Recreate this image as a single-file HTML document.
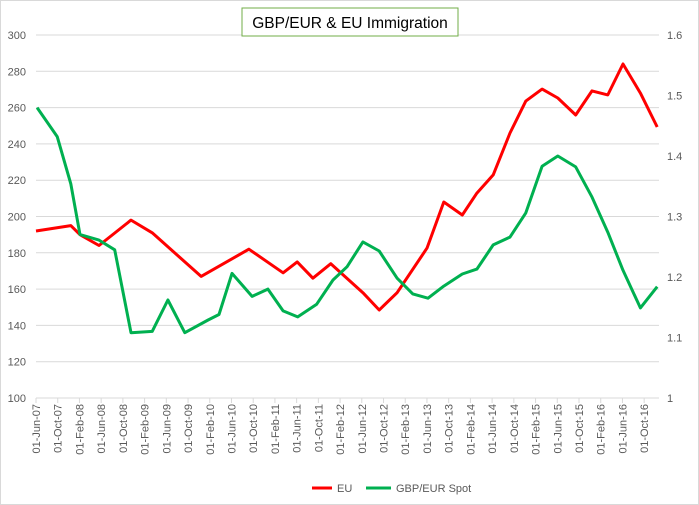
<!DOCTYPE html>
<html><head><meta charset="utf-8"><style>
body{margin:0;background:#fff}
svg{display:block;font-family:"Liberation Sans",sans-serif}
</style></head><body>
<svg id="c" width="699" height="505" viewBox="0 0 699 505">
<rect x="0.5" y="0.5" width="698" height="504" fill="#fff" stroke="#d9d9d9"/>
<g id="grid"></g>
<g id="axes"></g>
<g id="series"></g>
<rect x="242" y="8" width="216" height="28" fill="#fff" stroke="#70ad47"/>
<text x="350" y="28" text-anchor="middle" font-size="15.5" fill="#000">GBP/EUR &amp; EU Immigration</text>
<g>
<line x1="312" y1="488" x2="332" y2="488" stroke="#ff0000" stroke-width="3"/>
<text x="337" y="492" font-size="11" fill="#595959">EU</text>
<line x1="366" y1="488" x2="391" y2="488" stroke="#00b050" stroke-width="3"/>
<text x="396" y="492" font-size="11" fill="#595959">GBP/EUR Spot</text>
</g>
</svg>
<script>
const xTickLabels=["01-Jun-07","01-Oct-07","01-Feb-08","01-Jun-08","01-Oct-08","01-Feb-09","01-Jun-09","01-Oct-09","01-Feb-10","01-Jun-10","01-Oct-10","01-Feb-11","01-Jun-11","01-Oct-11","01-Feb-12","01-Jun-12","01-Oct-12","01-Feb-13","01-Jun-13","01-Oct-13","01-Feb-14","01-Jun-14","01-Oct-14","01-Feb-15","01-Jun-15","01-Oct-15","01-Feb-16","01-Jun-16","01-Oct-16"];
const leftTicks=[100,120,140,160,180,200,220,240,260,280,300];
const rightTicks=[1,1.1,1.2,1.3,1.4,1.5,1.6];
// months since 01-Jun-07
const euMonths=[0,6.4,8.1,11.6,17.5,21.4,30.4,39.2,45.5,48.1,51,54.3,60.2,63.2,66.5,72,75.1,78.5,81.2,84.2,87.3,90.2,93.2,96.1,99.4,102.4,105.3,108.1,111.3,114.4];
const euValues=[192,195,190,184,198,191,167,182,169,175,166,174,158,148.5,158,182.6,208,200.8,212.9,222.9,246,263.6,270.2,265.3,255.9,269.2,267,284,268,249.3];
const fxMonths=[0.2,3.9,6.4,8.1,11.6,14.5,17.5,21.4,24.3,27.4,31.7,33.7,36.1,39.8,42.7,45.5,48.2,51.7,54.7,57.3,60.2,63.2,66.5,69.4,72.2,75.1,78.5,81.2,84.2,87.3,90.2,93.2,96.1,99.4,102.4,105.3,108.1,111.3,114.4];
const fxValues=[1.48,1.432,1.354,1.27,1.261,1.245,1.108,1.11,1.162,1.108,1.129,1.138,1.206,1.168,1.18,1.144,1.134,1.155,1.195,1.217,1.258,1.243,1.198,1.172,1.165,1.185,1.205,1.213,1.253,1.266,1.306,1.383,1.4,1.382,1.332,1.274,1.211,1.149,1.184];

const NS="http://www.w3.org/2000/svg";
const X0=36,PX=5.43,Y0=398,Y1=35,XR=659;
const xs=m=>X0+m*PX;
const yl=v=>Y0-(v-100)/200*(Y0-Y1);
const yr=v=>Y0-(v-1)/0.6*(Y0-Y1);
function mk(t,a,p){const e=document.createElementNS(NS,t);for(const k in a)e.setAttribute(k,a[k]);p.appendChild(e);return e;}
const grid=document.getElementById('grid'),axes=document.getElementById('axes'),ser=document.getElementById('series');
leftTicks.forEach(v=>{
  if(v>100){const l=mk('line',{x1:X0,x2:XR,y1:yl(v),y2:yl(v),stroke:'#d9d9d9'},grid);
  
  }
  const t=mk('text',{x:26,y:yl(v)+4,'text-anchor':'end','font-size':11,fill:'#595959'},axes);t.textContent=v;
  
  
});
rightTicks.forEach(v=>{
  const t=mk('text',{x:667,y:yr(v)+4,'font-size':11,fill:'#595959'},axes);t.textContent=String(v);
  
  
});
const ax=mk('line',{x1:X0,x2:XR,y1:Y0,y2:Y0,stroke:'#d9d9d9'},axes);


xTickLabels.forEach((s,i)=>{
  const x=xs(i*4);
  const tk=mk('line',{x1:x,x2:x,y1:Y0,y2:Y0+5,stroke:'#d9d9d9'},axes);
  
  
  const t=mk('text',{x:0,y:0,'text-anchor':'end','font-size':11,fill:'#595959',transform:`translate(${x+4},${Y0+6}) rotate(-90)`},axes);
  t.textContent=s;
  
  
});
function line(ms,vs,yf,col,name){
  const d=ms.map((m,i)=>(i?'L':'M')+xs(m).toFixed(1)+','+yf(vs[i]).toFixed(1)).join('');
  const p=mk('path',{d:d,fill:'none',stroke:col,'stroke-width':3,'stroke-linejoin':'round'},ser);
  
  
}
line(euMonths,euValues,yl,'#ff0000','eu-line');
line(fxMonths,fxValues,yr,'#00b050','gbpeur-line');
</script>
</body></html>
